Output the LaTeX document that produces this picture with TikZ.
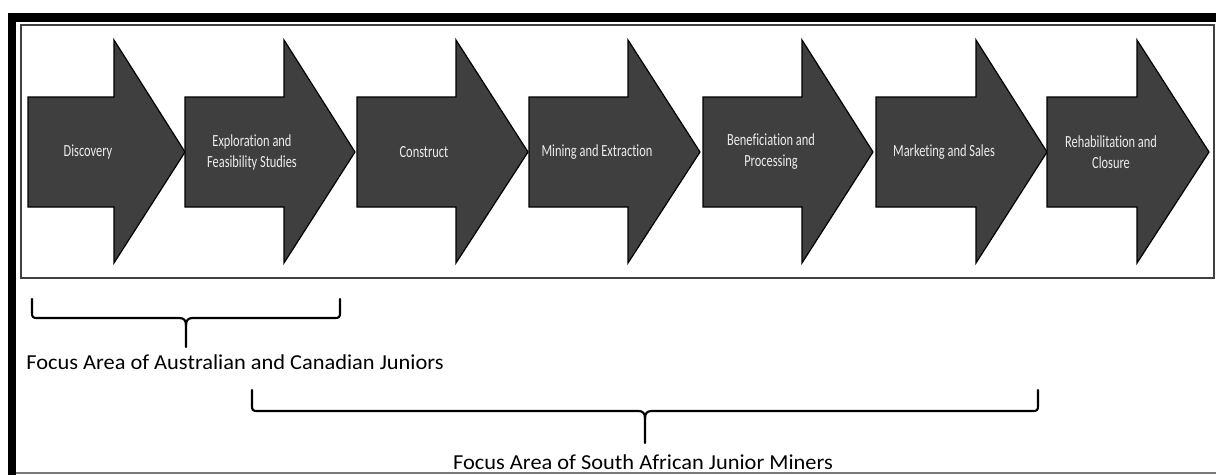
\documentclass[tikz,border=0pt]{standalone}
\usepackage{fontspec}
\setmainfont{Carlito}[Ligatures=NoCommon]
\newfontfamily\arrowfont[FakeStretch=0.73,Ligatures=NoCommon]{Carlito}
\newfontfamily\focusfont[FakeStretch=1.05,Ligatures=NoCommon]{Carlito}
\definecolor{arrowgrey}{HTML}{3F3F3F}
\definecolor{arrowtxt}{HTML}{EDEDED}
\definecolor{boxline}{HTML}{404040}
\begin{document}
\begin{tikzpicture}[x=0.75pt,y=-0.75pt,
  arrowshape/.style={fill=arrowgrey, draw=black, line width=0.9pt, line join=miter},
  arrowtext/.style={text=arrowtxt, font=\arrowfont\fontsize{12.75}{15.75}\selectfont, align=center, inner sep=0pt},
  bracepath/.style={line width=1.6pt, line cap=round, line join=round},
  focustext/.style={font=\focusfont\fontsize{16}{19}\selectfont, inner sep=0pt}]
\useasboundingbox (0,0) rectangle (1216,475);
% outer frame
\fill[black] (8,13) rectangle (1216,22);
\fill[black] (8,13) rectangle (16,475);
\draw[boxline!70, line width=0.9pt] (16,473) -- (1216,473);
% inner box
\draw[boxline, line width=1.1pt] (21,25) rectangle (1214,278);
% arrows
\foreach \L/\H/\T/\c/\n/\t in {
  28/114/185/88/a1/Discovery,
  185/284/355/252/a2/Exploration and\\Feasibility Studies,
  357/456/528/424/a3/Construct,
  529/628/700/597/a4/Mining and Extraction,
  703/802/873/771/a5/Beneficiation and\\Processing,
  876/976/1047/944/a6/Marketing and Sales,
  1047/1137/1209/1111/a7/Rehabilitation and\\Closure}{
  \path[arrowshape] (\L,97) -- (\H,97) -- (\H,40) -- (\T,152) -- (\H,263) -- (\H,207) -- (\L,207) -- cycle;
  \node[arrowtext] (\n) at (\c,152) {\t};
}
% brace 1
\coordinate (b1l) at (32,299);
\coordinate (b1r) at (340,299);
\coordinate (b1c) at (186,347);
\draw[bracepath] (b1l) -- (32,313) .. controls (32,317) and (33,318) .. (37,318) -- (179,318) .. controls (184,318) and (186,320) .. (186,326) -- (b1c);
\draw[bracepath] (b1r) -- (340,313) .. controls (340,317) and (339,318) .. (335,318) -- (193,318) .. controls (188,318) and (186,320) .. (186,326);
\node[focustext, anchor=base west] (f1) at (26,369) {Focus Area of Australian and Canadian Juniors};
% brace 2
\coordinate (b2l) at (252,390);
\coordinate (b2r) at (1038,390);
\coordinate (b2c) at (645,443);
\draw[bracepath] (b2l) -- (252,406) .. controls (252,410) and (253,411) .. (257,411) -- (638,411) .. controls (643,411) and (645,413) .. (645,419) -- (b2c);
\draw[bracepath] (b2r) -- (1038,406) .. controls (1038,410) and (1037,411) .. (1033,411) -- (652,411) .. controls (647,411) and (645,413) .. (645,419);
\node[focustext, anchor=base] (f2) at (643,469) {Focus Area of South African Junior Miners};
\end{tikzpicture}
\end{document}
